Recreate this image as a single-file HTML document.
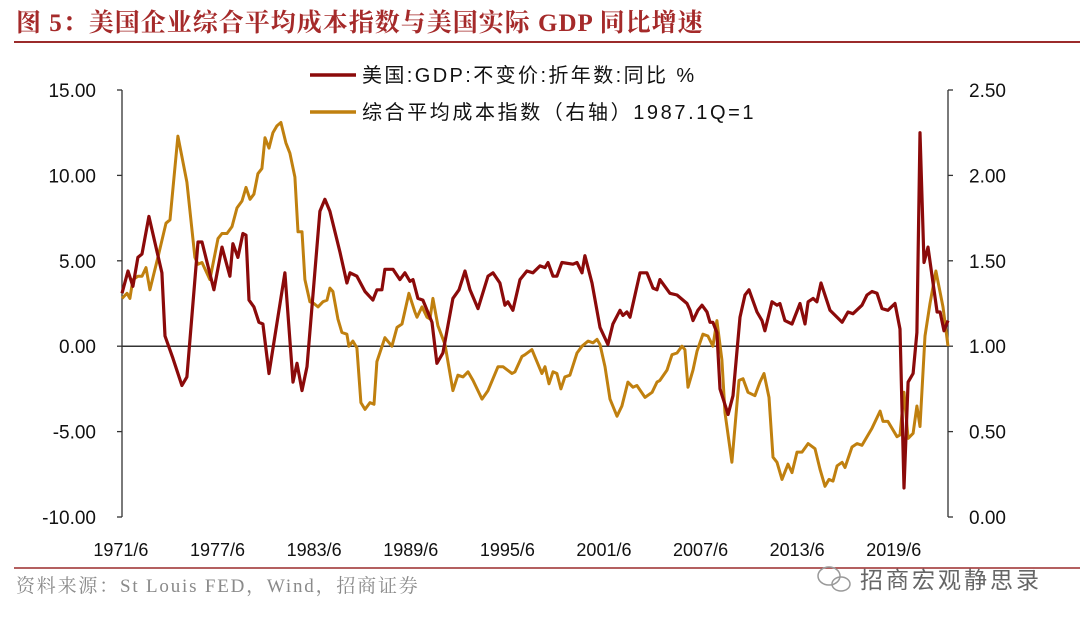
<!DOCTYPE html>
<html><head><meta charset="utf-8"><style>
body{margin:0;background:#fff;width:1080px;height:624px;overflow:hidden;font-family:"Liberation Sans","Noto Sans CJK SC",sans-serif}
svg{display:block}
</style></head><body>
<svg id="chart" width="1080" height="624" viewBox="0 0 1080 624">
<text x="16" y="31" font-family="'Liberation Serif','Noto Serif CJK SC',serif" font-weight="bold" font-size="25" letter-spacing="1" fill="#A52A2A">图 5：美国企业综合平均成本指数与美国实际 GDP 同比增速</text>
<line x1="14" y1="42" x2="1080" y2="42" stroke="#9B2B2B" stroke-width="2"/>
<line x1="14" y1="568" x2="1080" y2="568" stroke="#9B2B2B" stroke-width="1.5"/>
<text x="16" y="592" font-family="'Liberation Serif','Noto Serif CJK SC',serif" font-size="19" letter-spacing="1.8" fill="#8a8a8a">资料来源：St Louis FED，Wind，招商证券</text>
<g>
<ellipse cx="829" cy="576" rx="11" ry="9" fill="none" stroke="#999" stroke-width="1.5"/>
<ellipse cx="841" cy="584" rx="9" ry="7" fill="none" stroke="#999" stroke-width="1.5"/>
<text x="860" y="588" font-size="23" letter-spacing="3" fill="#666">招商宏观静思录</text>
</g>
<g id="axes"></g>
<g id="series"></g>
<g>
<line x1="310" y1="75" x2="356" y2="75" stroke="#8B0A0A" stroke-width="3.5"/>
<text x="362" y="82" font-size="20" letter-spacing="2.4" fill="#111">美国:GDP:不变价:折年数:同比 %</text>
<line x1="310" y1="112" x2="356" y2="112" stroke="#C0800F" stroke-width="3.5"/>
<text x="362" y="119" font-size="20" letter-spacing="2.6" fill="#111">综合平均成本指数（右轴）1987.1Q=1</text>
</g>
</svg>
<script>
const leftTicks=[15,10,5,0,-5,-10];
const leftTickLabels=["15.00","10.00","5.00","0.00","-5.00","-10.00"];
const rightTicks=[2.5,2.0,1.5,1.0,0.5,0.0];
const rightTickLabels=["2.50","2.00","1.50","1.00","0.50","0.00"];
const xTicks=[1971.375,1977.375,1983.375,1989.375,1995.375,2001.375,2007.375,2013.375,2019.375];
const xTickLabels=["1971/6","1977/6","1983/6","1989/6","1995/6","2001/6","2007/6","2013/6","2019/6"];
const gdpDates=[1971.38,1971.75,1972.06,1972.37,1972.62,1973.05,1973.86,1974.05,1974.54,1975.10,1975.41,1976.10,1976.35,1977.09,1977.59,1978.08,1978.27,1978.58,1978.89,1979.08,1979.27,1979.57,1979.88,1980.13,1980.51,1981.50,1982.00,1982.25,1982.56,1982.87,1983.67,1983.98,1984.29,1984.92,1985.35,1985.54,1985.97,1986.47,1986.96,1987.21,1987.52,1987.71,1988.21,1988.64,1988.95,1989.26,1989.45,1989.76,1990.07,1990.63,1990.94,1991.31,1991.93,1992.31,1992.68,1992.99,1993.49,1994.11,1994.42,1994.85,1995.16,1995.35,1995.66,1996.10,1996.53,1996.90,1997.34,1997.65,1997.84,1998.15,1998.39,1998.70,1999.39,1999.64,1999.95,2000.13,2000.57,2001.07,2001.56,2001.87,2002.31,2002.49,2002.74,2002.93,2003.55,2003.98,2004.36,2004.61,2004.79,2005.41,2005.85,2006.47,2006.66,2006.84,2007.15,2007.40,2007.71,2007.90,2008.08,2008.33,2008.52,2009.02,2009.33,2009.76,2010.07,2010.32,2010.82,2011.13,2011.31,2011.75,2012.06,2012.24,2012.55,2012.99,2013.49,2013.80,2013.99,2014.30,2014.54,2014.79,2015.35,2016.10,2016.47,2016.78,2017.34,2017.65,2017.96,2018.27,2018.58,2018.95,2019.39,2019.70,2019.95,2020.20,2020.51,2020.75,2020.94,2021.19,2021.44,2022.00,2022.19,2022.43,2022.68];
const gdpValues=[3.1,4.4,3.5,5.2,5.4,7.6,4.3,0.6,-0.7,-2.3,-1.8,6.1,6.1,3.3,5.8,4.1,6.0,5.2,6.6,6.5,2.7,2.3,1.4,1.3,-1.6,4.3,-2.1,-1.0,-2.6,-1.2,7.9,8.6,7.9,5.5,3.7,4.3,4.1,3.2,2.7,3.3,3.3,4.5,4.5,3.9,4.3,3.8,3.9,2.8,2.7,1.4,-1.0,-0.4,2.8,3.3,4.4,3.3,2.2,4.1,4.3,3.7,2.4,2.6,2.1,3.9,4.4,4.3,4.7,4.6,4.9,4.1,4.1,4.9,4.8,4.9,4.3,5.3,3.7,1.1,0.1,1.3,2.1,1.8,2.0,1.7,4.3,4.3,3.4,3.3,3.9,3.1,3.0,2.5,2.1,1.5,2.1,2.4,2.0,1.4,1.4,0.8,-2.5,-4.0,-2.9,1.7,3.0,3.3,2.0,1.5,0.9,2.6,2.4,2.5,1.5,1.3,2.5,1.3,2.6,2.8,2.6,3.7,2.1,1.4,2.0,1.9,2.4,3.0,3.2,3.1,2.2,2.1,2.5,1.0,-8.3,-2.1,-1.6,0.8,12.5,4.9,5.8,2.0,2.0,0.9,1.5];
const costDates=[1971.38,1971.69,1971.87,1972.06,1972.37,1972.62,1972.87,1973.11,1973.61,1974.11,1974.36,1974.85,1975.41,1975.91,1976.10,1976.35,1976.84,1977.34,1977.59,1977.90,1978.21,1978.52,1978.83,1979.08,1979.33,1979.57,1979.82,1980.07,1980.26,1980.51,1980.75,1981.00,1981.25,1981.56,1981.81,1982.12,1982.31,1982.56,1982.74,1983.05,1983.30,1983.55,1983.86,1984.11,1984.29,1984.48,1984.79,1985.04,1985.35,1985.47,1985.72,1985.97,1986.22,1986.47,1986.78,1987.03,1987.21,1987.71,1988.14,1988.46,1988.77,1989.20,1989.57,1989.70,1990.01,1990.32,1990.51,1990.69,1991.00,1991.44,1991.93,1992.24,1992.56,1992.87,1993.18,1993.74,1994.11,1994.73,1995.04,1995.60,1995.79,1996.22,1996.41,1996.84,1997.15,1997.46,1997.65,1997.90,1998.15,1998.39,1998.64,1998.89,1999.20,1999.64,1999.95,2000.32,2000.63,2000.88,2001.07,2001.38,2001.69,2002.12,2002.43,2002.80,2003.11,2003.36,2003.86,2004.30,2004.61,2004.79,2005.23,2005.54,2005.85,2006.16,2006.34,2006.53,2006.84,2007.09,2007.46,2007.77,2008.08,2008.33,2008.64,2008.83,2009.26,2009.70,2009.95,2010.26,2010.69,2011.00,2011.25,2011.56,2011.81,2012.06,2012.37,2012.74,2012.99,2013.30,2013.61,2013.99,2014.42,2014.73,2015.04,2015.29,2015.54,2015.79,2016.10,2016.28,2016.72,2017.03,2017.34,2017.96,2018.46,2018.64,2018.95,2019.51,2019.70,2019.95,2020.20,2020.51,2020.75,2020.94,2021.25,2021.56,2021.93,2022.37,2022.68];
const costValues=[1.28,1.31,1.28,1.39,1.41,1.41,1.46,1.33,1.52,1.72,1.74,2.23,1.96,1.52,1.48,1.49,1.39,1.63,1.66,1.66,1.70,1.81,1.85,1.93,1.86,1.89,2.01,2.04,2.22,2.16,2.25,2.29,2.31,2.19,2.13,1.99,1.67,1.67,1.39,1.26,1.25,1.23,1.26,1.27,1.34,1.32,1.16,1.08,1.07,1.00,1.03,0.99,0.67,0.63,0.67,0.66,0.91,1.05,1.00,1.11,1.13,1.31,1.20,1.17,1.23,1.17,1.16,1.28,1.12,1.01,0.74,0.83,0.82,0.85,0.80,0.69,0.74,0.88,0.88,0.84,0.85,0.94,0.95,0.98,0.91,0.84,0.88,0.78,0.85,0.84,0.75,0.82,0.83,0.96,1.00,1.03,1.02,1.04,1.01,0.88,0.69,0.59,0.65,0.79,0.76,0.77,0.70,0.73,0.79,0.80,0.86,0.95,0.96,1.00,0.98,0.76,0.86,0.97,1.07,1.06,1.00,1.15,0.92,0.61,0.32,0.80,0.81,0.73,0.71,0.79,0.84,0.70,0.35,0.32,0.22,0.31,0.26,0.38,0.38,0.43,0.40,0.28,0.18,0.22,0.21,0.30,0.32,0.29,0.41,0.43,0.42,0.52,0.62,0.56,0.56,0.47,0.48,0.73,0.46,0.49,0.65,0.53,1.06,1.25,1.44,1.23,1.00];

const X0=122,X1=948,T0=1971.38,T1=2022.68;
const Y15=90,Ym10=517;
function xs(t){return X0+(t-T0)/(T1-T0)*(X1-X0);}
function yl(v){return Y15+(15-v)/25*(Ym10-Y15);}
function yr(v){return Y15+(2.5-v)/2.5*(Ym10-Y15);}
const NS='http://www.w3.org/2000/svg';
function mk(tag,attrs,parent){const e=document.createElementNS(NS,tag);for(const k in attrs)e.setAttribute(k,attrs[k]);parent.appendChild(e);return e;}
const axes=document.getElementById('axes'),series=document.getElementById('series');

let la=mk('line',{x1:X0,y1:Y15,x2:X0,y2:Ym10,stroke:'#333','stroke-width':1.3},axes);


let ra=mk('line',{x1:X1,y1:Y15,x2:X1,y2:Ym10,stroke:'#333','stroke-width':1.3},axes);


let zl=mk('line',{x1:X0,y1:yl(0),x2:X1,y2:yl(0),stroke:'#333','stroke-width':1.5},axes);



leftTicks.forEach((v,i)=>{
  const y=yl(v);
  const tk=mk('line',{x1:X0-5,y1:y,x2:X0,y2:y,stroke:'#333','stroke-width':1.3},axes);
  
  
  const t=mk('text',{x:96,y:y+7,'text-anchor':'end','font-size':19,fill:'#111'},axes);
  t.textContent=leftTickLabels[i];
  
  
});
rightTicks.forEach((v,i)=>{
  const y=yr(v);
  const tk=mk('line',{x1:X1,y1:y,x2:X1+5,y2:y,stroke:'#333','stroke-width':1.3},axes);
  
  
  const t=mk('text',{x:969,y:y+7,'font-size':19,fill:'#111'},axes);
  t.textContent=rightTickLabels[i];
  
  
});
xTicks.forEach((v,i)=>{
  const t=mk('text',{x:xs(v)-1,y:556,'text-anchor':'middle','font-size':18,fill:'#111'},axes);
  t.textContent=xTickLabels[i];
  
  
});

const cp=costDates.map((d,i)=>xs(d).toFixed(1)+','+yr(costValues[i]).toFixed(1)).join(' ');
const cl=mk('polyline',{points:cp,fill:'none',stroke:'#C0800F','stroke-width':3,'stroke-linejoin':'round'},series);


const gp=gdpDates.map((d,i)=>xs(d).toFixed(1)+','+yl(gdpValues[i]).toFixed(1)).join(' ');
const gl=mk('polyline',{points:gp,fill:'none',stroke:'#8B0A0A','stroke-width':3.2,'stroke-linejoin':'round'},series);


</script>
</body></html>
